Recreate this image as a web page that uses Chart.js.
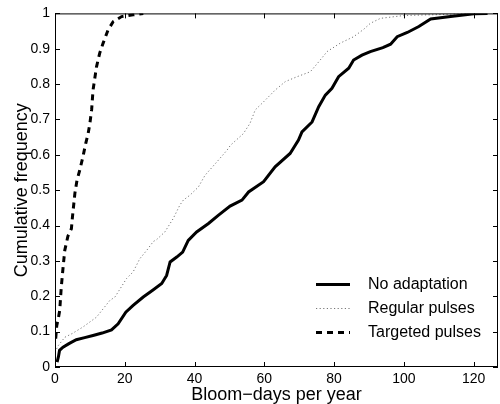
<!DOCTYPE html>
<html>
<head>
<meta charset="utf-8">
<script src="https://cdn.jsdelivr.net/npm/chart.js@4.4.1/dist/chart.umd.min.js"></script>
<style>
  html, body { margin: 0; padding: 0; background: #fff; }
  #wrap { width: 500px; height: 404px; }
</style>
</head>
<body>
<div id="wrap"><canvas id="cdf"></canvas></div>
<script>
// Cumulative frequency of bloom-days per year for three management strategies

const noAdaptX = [0.6, 1.0, 1.3, 2.3, 4, 6.1, 8.5, 10.9, 13.5, 16.2, 18.1, 20.3, 22.4, 25.3, 28, 30.6, 32, 33, 34.9, 36.6,
                  38.2, 40.6, 44, 46.8, 50.2, 53.6, 55.5, 59.8, 63.1, 67.4, 69.8, 70.8, 73.7, 75.6, 77.5, 79.4, 81.3, 84.2,
                  85.6, 88, 90.4, 94, 96.2, 98.1, 101, 104.3, 107.7, 113.4, 120.1, 124];
const noAdaptY = [0.014, 0.03, 0.047, 0.056, 0.066, 0.077, 0.083, 0.089, 0.096, 0.105, 0.122, 0.155, 0.174, 0.198, 0.217,
                  0.236, 0.259, 0.297, 0.311, 0.325, 0.358, 0.382, 0.406, 0.429, 0.455, 0.472, 0.495, 0.524, 0.566, 0.604,
                  0.642, 0.665, 0.693, 0.736, 0.769, 0.788, 0.821, 0.845, 0.868, 0.882, 0.892, 0.903, 0.913, 0.934, 0.946,
                  0.963, 0.984, 0.991, 0.999, 1];

const regularX = [0, 0.9, 2.8, 5, 8, 11.9, 15.7, 17.2, 20.5, 22.4, 24.3, 26.3, 28.2, 29.1, 31.5, 33.9, 35.8, 36.8, 38.7,
                  41.1, 43, 46.4, 49.3, 50.3, 54, 55.9, 57.4, 59.8, 63.1, 66, 69.4, 73.2, 75.6, 78, 81.8, 85.6, 88.5,
                  90.4, 93.3, 100, 111.5, 118];
const regularY = [0.042, 0.06, 0.084, 0.095, 0.113, 0.141, 0.188, 0.198, 0.25, 0.269, 0.306, 0.33, 0.355, 0.36, 0.382,
                  0.42, 0.458, 0.472, 0.486, 0.509, 0.542, 0.58, 0.613, 0.627, 0.66, 0.689, 0.727, 0.75, 0.783, 0.807,
                  0.821, 0.835, 0.863, 0.892, 0.916, 0.934, 0.955, 0.972, 0.986, 0.994, 0.997, 1];

const targetedX = [0.2, 0.5, 1.0, 1.35, 1.8, 2.3, 2.8, 3.7, 4.7, 5.0, 5.7, 6.3, 7.1, 8, 8.8, 9.5, 10, 10.5, 10.9, 11.9,
                   12.8, 13.8, 15.2, 16.7, 19.1, 22.4, 25.3];
const targetedY = [0.08, 0.117, 0.14, 0.16, 0.226, 0.28, 0.33, 0.37, 0.391, 0.424, 0.491, 0.528, 0.557, 0.594, 0.632,
                   0.66, 0.689, 0.727, 0.783, 0.849, 0.887, 0.916, 0.953, 0.977, 0.991, 0.996, 1];

const seriesNames = ['No adaptation', 'Regular pulses', 'Targeted pulses'];
const xTicks = [0, 20, 40, 60, 80, 100, 120];

const FONT = 'Liberation Sans, Arial, Helvetica, sans-serif';

function pairs(xs, ys) {
    return xs.map((x, i) => ({ x: x, y: ys[i] }));
}

// box around the plot with inward ticks on every side, matlab style
const boxTicks = {
    id: 'boxTicks',
    afterDraw(chart) {
        const { ctx, chartArea: a, scales } = chart;
        const len = 5;
        ctx.save();
        ctx.strokeStyle = '#000';
        ctx.lineWidth = 1;
        ctx.strokeRect(a.left + 0.5, a.top + 0.5, a.right - a.left - 1, a.bottom - a.top - 1);
        ctx.beginPath();
        scales.x.ticks.forEach(t => {
            const px = Math.round(scales.x.getPixelForValue(t.value)) + 0.5;
            ctx.moveTo(px, a.bottom); ctx.lineTo(px, a.bottom - len);
            ctx.moveTo(px, a.top); ctx.lineTo(px, a.top + len);
        });
        scales.y.ticks.forEach(t => {
            const py = Math.round(scales.y.getPixelForValue(t.value)) + 0.5;
            ctx.moveTo(a.left, py); ctx.lineTo(a.left + len, py);
            ctx.moveTo(a.right, py); ctx.lineTo(a.right - len, py);
        });
        ctx.stroke();
        ctx.restore();
    }
};

// legend drawn inside the axes, lower right, no frame
const insideLegend = {
    id: 'insideLegend',
    afterDraw(chart) {
        const { ctx, chartArea: a } = chart;
        const x0 = a.left + 261, x1 = a.left + 295, tx = a.left + 313;
        const rows = [284, 308, 332];
        ctx.save();
        ctx.font = '16px ' + FONT;
        ctx.textBaseline = 'middle';
        chart.data.datasets.forEach((ds, i) => {
            const y = rows[i] + 0.5;
            ctx.strokeStyle = ds.borderColor;
            ctx.lineWidth = ds.borderWidth;
            ctx.setLineDash(ds.borderDash || []);
            ctx.beginPath();
            ctx.moveTo(x0, y);
            ctx.lineTo(x1, y);
            ctx.stroke();
            ctx.setLineDash([]);
            ctx.fillStyle = '#000';
            ctx.fillText(ds.label, tx, rows[i] + 1);
        });
        ctx.restore();
    }
};

new Chart(document.getElementById('cdf'), {
    type: 'line',
    data: {
        datasets: [{
            label: seriesNames[0],
            data: pairs(noAdaptX, noAdaptY),
            borderColor: '#000',
            borderWidth: 3,
            pointRadius: 0,
            tension: 0
        }, {
            label: seriesNames[1],
            data: pairs(regularX, regularY),
            borderColor: '#777',
            borderWidth: 1,
            borderDash: [1.2, 2.4],
            pointRadius: 0,
            tension: 0
        }, {
            label: seriesNames[2],
            data: pairs(targetedX, targetedY),
            borderColor: '#000',
            borderWidth: 3,
            borderDash: [6, 5],
            pointRadius: 0,
            tension: 0
        }]
    },
    options: {
        responsive: true,
        maintainAspectRatio: false,
        animation: false,
        layout: { padding: { top: 13, right: 2, left: 0, bottom: 0 } },
        plugins: {
            legend: { display: false },
            tooltip: { enabled: false }
        },
        scales: {
            x: {
                type: 'linear',
                min: 0,
                max: 127,
                afterBuildTicks: s => { s.ticks = xTicks.map(v => ({ value: v })); },
                afterFit: s => { s.height = 37; },
                grid: { display: false, drawTicks: false },
                border: { display: false },
                ticks: { color: '#000', padding: 4, font: { family: FONT, size: 14 } },
                title: {
                    display: true,
                    text: 'Bloom\u2212days per year',
                    color: '#000',
                    padding: { top: 0, bottom: -2 },
                    font: { family: FONT, size: 18 }
                }
            },
            y: {
                min: 0,
                max: 1,
                afterFit: s => { s.width = 55; },
                grid: { display: false, drawTicks: false },
                border: { display: false },
                ticks: {
                    stepSize: 0.1,
                    color: '#000',
                    padding: 5,
                    font: { family: FONT, size: 14 },
                    callback: v => String(+v.toFixed(1))
                },
                title: {
                    display: true,
                    text: 'Cumulative frequency',
                    color: '#000',
                    padding: { top: 11, bottom: 0 },
                    font: { family: FONT, size: 18 }
                }
            }
        }
    },
    plugins: [boxTicks, insideLegend]
});
</script>
</body>
</html>
